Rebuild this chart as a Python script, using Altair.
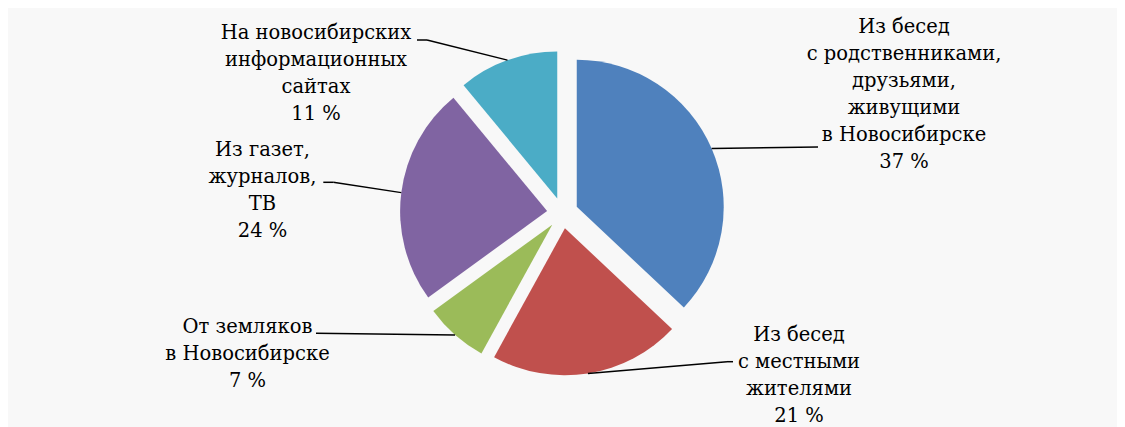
import altair as alt
import pandas as pd

# ---- data ----
categories = [
    "Из бесед\nс родственниками,\nдрузьями,\nживущими\nв Новосибирске",
    "Из бесед\nс местными\nжителями",
    "От земляков\nв Новосибирске",
    "Из газет,\nжурналов,\nТВ",
    "На новосибирских\nинформационных\nсайтах",
]
values = [37, 21, 7, 24, 11]
colors = ["#4F81BD", "#C0504D", "#9BBB59", "#8064A2", "#4BACC6"]

# ---- label layout (plot pixel coords) ----
label_x = [896, 791, 239.5, 254.5, 308]
label_y = [25.3, 333, 324.7, 148, 31.3]
elbow_x = [810, 719, 308, 325.3, 419]
elbow_y = [139, 353.7, 325.3, 174.3, 32]
end_x = [810, 725, 308, 315.3, 409]

CX, CY, R, D = 554.5, 205, 147, 15.5

names = [c.replace("\n", " ") for c in categories]
df = pd.DataFrame({
    "idx": list(range(len(values))),
    "category": names,
    "label": [f"{c}\n{v} %" for c, v in zip(categories, values)],
    "value": values,
    "lx": label_x, "ly": label_y,
    "ex": elbow_x, "ey": elbow_y, "endx": end_x,
})

base = alt.Chart(df).transform_joinaggregate(
    total="sum(value)"
).transform_window(
    cum="sum(value)", sort=[alt.SortField("idx")], frame=[None, 0]
).transform_calculate(
    t1="2*PI*(datum.cum - datum.value)/datum.total",
    t2="2*PI*datum.cum/datum.total",
).transform_calculate(
    mid="(datum.t1 + datum.t2)/2"
).transform_calculate(
    cx=f"{CX} + {D}*sin(datum.mid)",
    cy=f"{CY} - {D}*cos(datum.mid)",
    px=f"{CX} + {D + R}*sin(datum.mid)",
    py=f"{CY} - {D + R}*cos(datum.mid)",
)

arcs = base.mark_arc(outerRadius=R).encode(
    x=alt.X("cx:Q", scale=None, axis=None),
    y=alt.Y("cy:Q", scale=None, axis=None),
    theta=alt.Theta("t1:Q", scale=None),
    theta2="t2:Q",
    color=alt.Color("category:N", scale=alt.Scale(domain=names, range=colors), legend=None),
)

lead1 = base.mark_rule(color="black", strokeWidth=1.5).encode(
    x=alt.X("px:Q", scale=None), y=alt.Y("py:Q", scale=None),
    x2="ex:Q", y2="ey:Q",
)
lead2 = base.mark_rule(color="black", strokeWidth=1.5).encode(
    x=alt.X("ex:Q", scale=None), y=alt.Y("ey:Q", scale=None),
    x2="endx:Q", y2="ey:Q",
)

labels = base.mark_text(
    font="DejaVu Serif", fontSize=19.5, lineHeight=27, align="center",
    baseline="alphabetic", lineBreak="\n", color="black",
).encode(
    x=alt.X("lx:Q", scale=None), y=alt.Y("ly:Q", scale=None), text="label:N",
)

chart = alt.layer(arcs, lead1, lead2, labels).properties(
    width=1109, height=419, background="#F8F8F8",
    autosize=alt.AutoSizeParams(type="none"), padding=0,
).configure_view(stroke=None)

chart.save("out.html", embed_options={"renderer": "svg", "actions": False})
